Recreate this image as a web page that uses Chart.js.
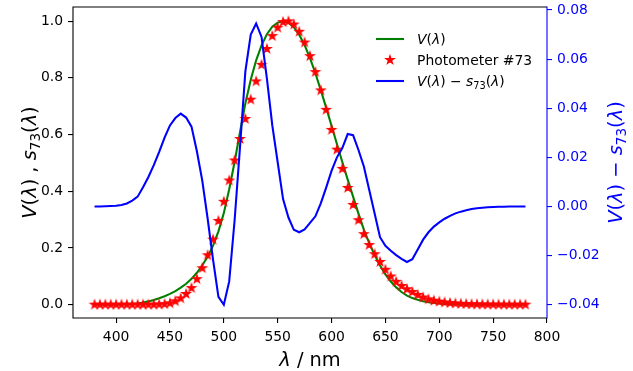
<!DOCTYPE html>
<html>
<head>
<meta charset="utf-8">
<script src="https://cdn.jsdelivr.net/npm/chart.js@4.4.0/dist/chart.umd.min.js"></script>
<style>
  html, body { margin: 0; padding: 0; background: #fff; }
</style>
</head>
<body>
<canvas id="chart" width="633" height="371"></canvas>
<script>
// wavelength grid (nm)
const wavelengths = [
  380, 385, 390, 395, 400, 405, 410, 415, 420, 425, 430, 435, 440, 445, 450, 455, 460, 465, 470, 475,
  480, 485, 490, 495, 500, 505, 510, 515, 520, 525, 530, 535, 540, 545, 550, 555, 560, 565, 570, 575,
  580, 585, 590, 595, 600, 605, 610, 615, 620, 625, 630, 635, 640, 645, 650, 655, 660, 665, 670, 675,
  680, 685, 690, 695, 700, 705, 710, 715, 720, 725, 730, 735, 740, 745, 750, 755, 760, 765, 770, 775, 780
];

// photopic luminosity function V(lambda)
const vLambda = [
  0.000039, 0.000064, 0.00012, 0.000217, 0.000396, 0.00064, 0.00121, 0.00218, 0.004, 0.0073,
  0.0116, 0.01684, 0.023, 0.0298, 0.038, 0.048, 0.06, 0.0739, 0.09098, 0.1126,
  0.13902, 0.1693, 0.20802, 0.2586, 0.323, 0.4073, 0.503, 0.6082, 0.71, 0.7932,
  0.862, 0.91485, 0.954, 0.9803, 0.99495, 1.0, 0.995, 0.9786, 0.952, 0.9154,
  0.87, 0.8163, 0.757, 0.6949, 0.631, 0.5668, 0.503, 0.4412, 0.381, 0.321,
  0.265, 0.217, 0.175, 0.1382, 0.107, 0.0816, 0.061, 0.04458, 0.032, 0.0232,
  0.017, 0.01192, 0.00821, 0.005723, 0.004102, 0.002929, 0.002091, 0.001484, 0.001047, 0.00074,
  0.00052, 0.000361, 0.000249, 0.000172, 0.00012, 0.0000848, 0.00006, 0.0000424, 0.00003, 0.0000212, 0.0000149
];

// relative spectral responsivity of photometer #73
const photometer73 = [
  0.0000, 0.0001, 0.0000, 0.0000, 0.0001, 0.0000, 0.0000, 0.0000, 0.0000, 0.0000,
  0.0000, 0.0000, 0.0008, 0.0018, 0.0050, 0.0120, 0.0222, 0.0377, 0.0585, 0.0901,
  0.1285, 0.1743, 0.2296, 0.2954, 0.3630, 0.4378, 0.5087, 0.5842, 0.6550, 0.7232,
  0.7875, 0.8459, 0.9020, 0.9473, 0.9770, 0.9970, 0.9995, 0.9881, 0.9625, 0.9247,
  0.8767, 0.8203, 0.7557, 0.6872, 0.6165, 0.5468, 0.4792, 0.4117, 0.3520, 0.2980,
  0.2487, 0.2103, 0.1779, 0.1507, 0.1230, 0.0996, 0.0808, 0.0659, 0.0546, 0.0447,
  0.0345, 0.0254, 0.0187, 0.0139, 0.0106, 0.0079, 0.0059, 0.0043, 0.0031, 0.0022,
  0.0015, 0.0011, 0.0007, 0.0005, 0.0003, 0.0002, 0.0001, 0.0000, 0.0000, 0.0000, 0.0000
];

// V(lambda) - s73(lambda), right axis
const difference = [
  0.0000, 0.0000, 0.0001, 0.0002, 0.0003, 0.0006, 0.0012, 0.0024, 0.0040, 0.0078,
  0.0120, 0.0168, 0.0222, 0.0280, 0.0330, 0.0360, 0.0378, 0.0362, 0.0325, 0.0225,
  0.0105, -0.0050, -0.0216, -0.0368, -0.0400, -0.0305, -0.0057, 0.0240, 0.0550, 0.0700,
  0.0745, 0.0690, 0.0520, 0.0330, 0.0180, 0.0030, -0.0045, -0.0095, -0.0105, -0.0093,
  -0.0067, -0.0040, 0.0013, 0.0077, 0.0145, 0.0200, 0.0238, 0.0295, 0.0290, 0.0230,
  0.0163, 0.0067, -0.0029, -0.0125, -0.0160, -0.0180, -0.0198, -0.0213, -0.0226, -0.0215,
  -0.0175, -0.0135, -0.0105, -0.0082, -0.0065, -0.0050, -0.0038, -0.0028, -0.0021, -0.0015,
  -0.0010, -0.0007, -0.0005, -0.0003, -0.0002, -0.0001, -0.0001, 0.0000, 0.0000, 0.0000, 0.0000
];

const xTicks = [400, 450, 500, 550, 600, 650, 700, 750, 800];
const leftTicks = [0, 0.2, 0.4, 0.6, 0.8, 1.0];
const rightTicks = [-0.04, -0.02, 0, 0.02, 0.04, 0.06, 0.08];

const FONT = 'DejaVu Sans';
const BLUE = '#0000ff';
const GREEN = '#008000';
const RED = '#ff0000';

const toPoints = arr => wavelengths.map((w, i) => ({ x: w, y: arr[i] }));

// filled 5-point star like matplotlib's '*' marker
function makeStar() {
  const c = document.createElement('canvas');
  c.width = 14; c.height = 14;
  const g = c.getContext('2d');
  const R = 4.15, r = R * 0.381966;
  g.beginPath();
  for (let i = 0; i < 10; i++) {
    const a = -Math.PI / 2 + i * Math.PI / 5;
    const rr = i % 2 ? r : R;
    g.lineTo(7 + rr * Math.cos(a), 7 + rr * Math.sin(a));
  }
  g.closePath();
  g.fillStyle = RED;
  g.fill();
  g.lineWidth = 1.3;
  g.strokeStyle = RED;
  g.stroke();
  return c;
}
const star = makeStar();

// rich text: [text, style] where style is 'i' italic, 'n' normal, 's' subscript
function segFont(style, size) {
  const s = style === 's' ? size * 0.7 : size;
  return (style === 'i' ? 'italic ' : '') + s + 'px "' + FONT + '"';
}
function richWidth(ctx, segs, size) {
  let w = 0;
  segs.forEach(([t, st]) => { ctx.font = segFont(st, size); w += ctx.measureText(t).width; });
  return w;
}
function drawRich(ctx, segs, x, y, size, color, align) {
  const w = richWidth(ctx, segs, size);
  let cx = align === 'center' ? x - w / 2 : x;
  ctx.fillStyle = color;
  ctx.textAlign = 'left';
  ctx.textBaseline = 'alphabetic';
  segs.forEach(([t, st]) => {
    ctx.font = segFont(st, size);
    ctx.fillText(t, cx, st === 's' ? y + size * 0.2 : y);
    cx += ctx.measureText(t).width;
  });
}

const vSegs = [['V', 'i'], ['(', 'n'], ['λ', 'i'], [')', 'n']];
const sSegs = [['s', 'i'], ['73', 's'], ['(', 'n'], ['λ', 'i'], [')', 'n']];
const leftTitle = [...vSegs, [' , ', 'n'], ...sSegs];
const diffTitle = [...vSegs, [' \u2212 ', 'n'], ...sSegs];
const xTitle = [['λ', 'i'], [' / nm', 'n']];

const legendItems = [
  { segs: vSegs, kind: 'line', color: GREEN },
  { segs: [['Photometer #73', 'n']], kind: 'star', color: RED },
  { segs: diffTitle, kind: 'line', color: BLUE }
];

const decor = {
  id: 'decor',
  afterDraw(chart) {
    const { ctx, chartArea: a } = chart;
    ctx.save();
    // spines
    ctx.lineWidth = 1.1;
    ctx.strokeStyle = '#000';
    ctx.beginPath();
    ctx.moveTo(a.right, a.top);
    ctx.lineTo(a.left, a.top);
    ctx.lineTo(a.left, a.bottom);
    ctx.lineTo(a.right, a.bottom);
    ctx.stroke();
    ctx.strokeStyle = BLUE;
    ctx.beginPath();
    ctx.moveTo(a.right, a.top - 0.5);
    ctx.lineTo(a.right, a.bottom + 0.5);
    ctx.stroke();

    // axis titles
    const midY = (a.top + a.bottom) / 2;
    drawRich(ctx, xTitle, (a.left + a.right) / 2, 366, 19.4, '#000', 'center');
    ctx.save();
    ctx.translate(36, midY);
    ctx.rotate(-Math.PI / 2);
    drawRich(ctx, leftTitle, 0, 0, 19.4, '#000', 'center');
    ctx.restore();
    ctx.save();
    ctx.translate(622, midY);
    ctx.rotate(-Math.PI / 2);
    drawRich(ctx, diffTitle, 0, 0, 19.4, BLUE, 'center');
    ctx.restore();

    // legend
    const rows = [39, 60, 81];
    legendItems.forEach((item, i) => {
      const y = rows[i];
      if (item.kind === 'line') {
        ctx.strokeStyle = item.color;
        ctx.lineWidth = 2.08;
        ctx.beginPath();
        ctx.moveTo(376, y);
        ctx.lineTo(404, y);
        ctx.stroke();
      } else {
        ctx.drawImage(star, 390 - 7, y - 7);
      }
      drawRich(ctx, item.segs, 417, y + 5, 13.9, '#000', 'left');
    });
    ctx.restore();
  }
};

const tickFont = { family: FONT, size: 13.9 };
const fmtRight = v => (v < 0 ? '\u2212' : '') + Math.abs(v).toFixed(2);

new Chart(document.getElementById('chart'), {
  type: 'line',
  data: {
    datasets: [
      {
        label: 'V(λ) − s73(λ)', data: toPoints(difference), yAxisID: 'y2',
        borderColor: BLUE, borderWidth: 2.08, pointRadius: 0, tension: 0, fill: false
      },
      {
        label: 'Photometer #73', data: toPoints(photometer73), yAxisID: 'y',
        showLine: false, pointStyle: star, pointRadius: 5,
        borderColor: RED, backgroundColor: RED
      },
      {
        label: 'V(λ)', data: toPoints(vLambda), yAxisID: 'y',
        borderColor: GREEN, borderWidth: 2.08, pointRadius: 0, tension: 0, fill: false
      }
    ]
  },
  options: {
    responsive: false,
    animation: false,
    events: [],
    layout: { padding: { top: 7, left: 0, right: 0, bottom: 0 } },
    plugins: { legend: { display: false }, tooltip: { enabled: false } },
    scales: {
      x: {
        type: 'linear', min: 360, max: 800,
        afterBuildTicks: s => { s.ticks = xTicks.map(v => ({ value: v })); },
        afterFit: s => { s.height = 53; s.paddingLeft = 0; s.paddingRight = 0; },
        ticks: { autoSkip: false, maxRotation: 0, color: '#000', font: tickFont, padding: 6, callback: v => String(v) },
        grid: { drawOnChartArea: false, tickLength: 5, color: '#000', lineWidth: 1.1 },
        border: { display: false }
      },
      y: {
        position: 'left', min: -0.047, max: 1.05,
        afterBuildTicks: s => { s.ticks = leftTicks.map(v => ({ value: v })); },
        afterFit: s => { s.width = 73; s.paddingTop = 0; s.paddingBottom = 0; },
        ticks: { autoSkip: false, color: '#000', font: tickFont, padding: 5, callback: v => v.toFixed(1) },
        grid: { drawOnChartArea: false, tickLength: 5, color: '#000', lineWidth: 1.1 },
        border: { display: false }
      },
      y2: {
        position: 'right', min: -0.0454, max: 0.0812,
        afterBuildTicks: s => { s.ticks = rightTicks.map(v => ({ value: v })); },
        afterFit: s => { s.width = 86; s.paddingTop = 0; s.paddingBottom = 0; },
        ticks: { autoSkip: false, color: BLUE, font: tickFont, padding: 5, callback: fmtRight },
        grid: { drawOnChartArea: false, tickLength: 5, color: BLUE, lineWidth: 1.1 },
        border: { display: false }
      }
    }
  },
  plugins: [decor]
});
</script>
</body>
</html>
